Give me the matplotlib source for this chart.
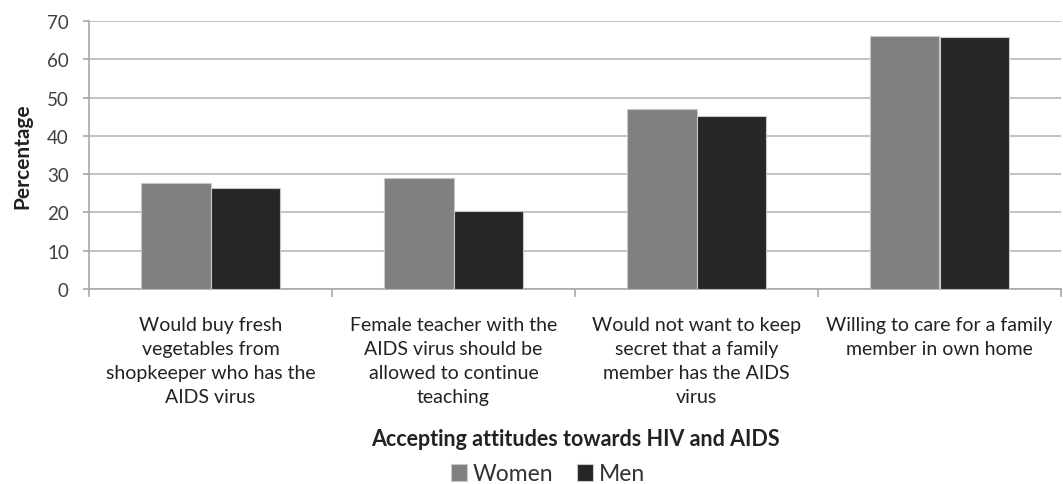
import numpy as np
import matplotlib.pyplot as plt

categories = [
    "Would buy fresh\nvegetables from\nshopkeeper who has the\nAIDS virus",
    "Female teacher with the\nAIDS virus should be\nallowed to continue\nteaching",
    "Would not want to keep\nsecret that a family\nmember has the AIDS\nvirus",
    "Willing to care for a family\nmember in own home",
]
women = [27.8, 29.0, 46.9, 66.0]
men = [26.5, 20.4, 45.1, 65.7]

plt.rcParams['font.family'] = ['Lato', 'DejaVu Sans']

fig = plt.figure(figsize=(10.63, 4.85), dpi=100)
ax = fig.add_axes([89 / 1063, 1 - 290 / 485, (1061 - 89) / 1063, (290 - 22) / 485])

x = np.arange(len(categories))
w = 0.288
ax.bar(x - w / 2, women, w, color='#808080', edgecolor='#c8c8c8', linewidth=0.8, label='Women', zorder=3)
ax.bar(x + w / 2, men, w, color='#262626', edgecolor='#c8c8c8', linewidth=0.8, label='Men', zorder=3)

ax.set_xlim(-0.5, len(categories) - 0.5)
ax.set_ylim(0, 70)
ax.set_yticks(range(0, 71, 10))
ax.yaxis.grid(True, color='#b8b8b8', linewidth=1.2, zorder=0)
ax.set_axisbelow(True)

for s in ['top', 'right']:
    ax.spines[s].set_visible(False)
for s in ['left', 'bottom']:
    ax.spines[s].set_color('#a8a8a8')
    ax.spines[s].set_linewidth(1.2)

ax.tick_params(axis='y', colors='#a8a8a8', labelcolor='#404040', labelsize=13.5,
               length=4.5, width=1.2, pad=10)
ax.set_xticks(np.arange(len(categories) + 1) - 0.5)
ax.set_xticklabels([])
ax.tick_params(axis='x', colors='#a8a8a8', length=6, width=1.2)
for i, c in enumerate(categories):
    ax.annotate(c, xy=(i, 0), xycoords=('data', 'axes fraction'), xytext=(0, -27),
                textcoords='offset pixels', ha='center', va='top', fontsize=14,
                color='#222222', linespacing=1.5)

ax.set_ylabel('Percentage', fontsize=15, fontweight='bold', color='#222222')
ax.yaxis.set_label_coords(32 / 1063, 1 - 156 / 485, transform=fig.transFigure)
fig.text(0.5 * (89 + 1061) / 1063, 1 - 440 / 485, 'Accepting attitudes towards HIV and AIDS',
         ha='center', va='center', fontsize=15.5, fontweight='bold', color='#222222')

fig.legend(loc='center', bbox_to_anchor=(548 / 1063, 1 - 475 / 485), ncol=2, frameon=False,
           fontsize=16.5, handlelength=0.7, handleheight=0.7, handletextpad=0.25,
           columnspacing=1.0, labelcolor='#333333')

fig.savefig('out.png', dpi=100)
